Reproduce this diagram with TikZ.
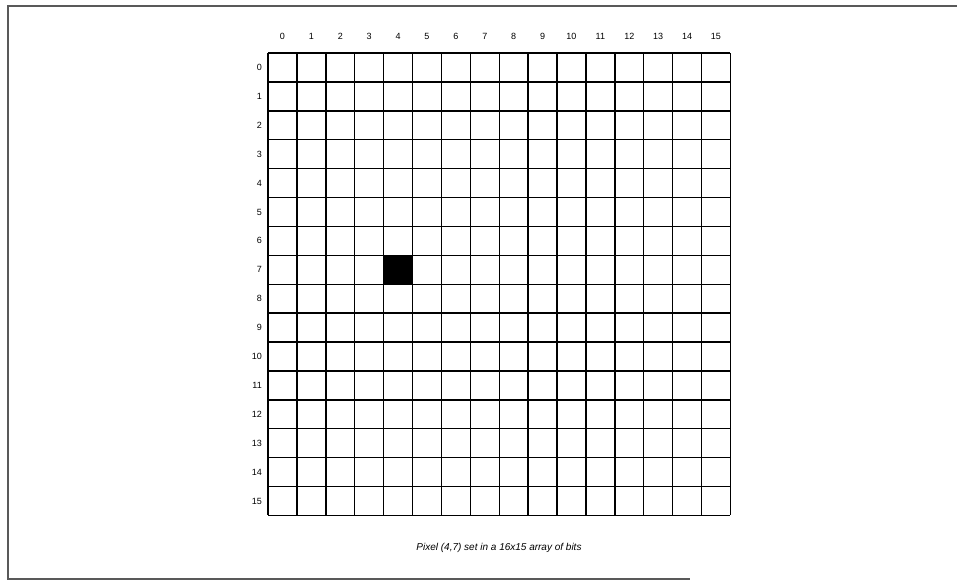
\documentclass[tikz,border=0pt]{standalone}
\usepackage{fontspec}
\setmainfont{Liberation Sans}
\begin{document}
\begin{tikzpicture}[x=1pt,y=-1pt,
  frameline/.style={draw=black!65,line width=2pt},
  gridline/.style={draw=black,line width=1.4pt},
  lbl/.style={font=\fontsize{9}{10}\selectfont,inner sep=0pt},
  captext/.style={font=\fontsize{10}{12}\selectfont\itshape,inner sep=0pt}]
\useasboundingbox (0,0) rectangle (957,581);
% frame (open on the right as in the scan)
\coordinate (ftr) at (957,6);
\coordinate (ftl) at (8,6);
\coordinate (fbl) at (8,579);
\coordinate (fbr) at (690,579);
\draw[frameline] (ftr) -- (ftl) -- (fbl) -- (fbr);
% grid
\def\gx{268}\def\gy{53}\def\cs{28.9}
\node[fill=black,minimum size=28.9pt,inner sep=0pt,anchor=north west] (pix) at ({\gx+4*\cs},{\gy+7*\cs}) {};
\foreach \i in {0,...,16}{
  \draw[gridline] ({\gx+\i*\cs},\gy) -- ({\gx+\i*\cs},{\gy+16*\cs});
  \draw[gridline] (\gx,{\gy+\i*\cs}) -- ({\gx+16*\cs},{\gy+\i*\cs});
}
\foreach \i in {0,...,15}{
  \node[lbl] (c\i) at ({\gx+(\i+0.5)*\cs},36) {\i};
  \node[lbl,anchor=east] (r\i) at ({\gx-6},{\gy+(\i+0.5)*\cs}) {\i};
}
\node[captext] (caption) at (499,548) {Pixel (4,7) set in a 16x15 array of bits};
\end{tikzpicture}
\end{document}
